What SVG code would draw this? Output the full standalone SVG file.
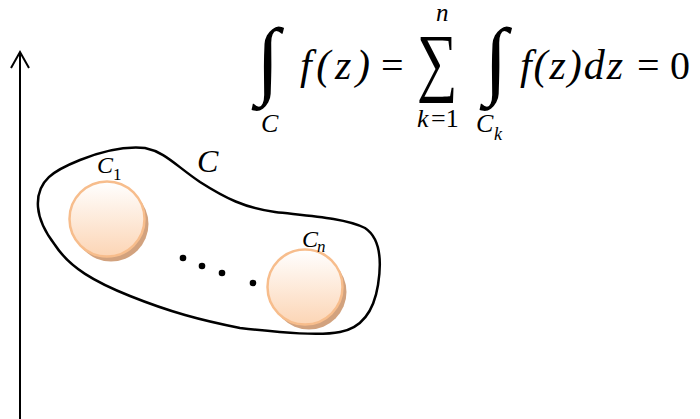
<svg xmlns="http://www.w3.org/2000/svg" width="700" height="419" viewBox="0 0 700 419">
<defs>
<linearGradient id="peach" x1="0" y1="0" x2="0" y2="1">
<stop offset="0" stop-color="#ffffff"/>
<stop offset="1" stop-color="#fcd5b5"/>
</linearGradient>
<style>
.m{font-family:"Liberation Serif","DejaVu Serif",serif;font-style:italic;fill:#000}
.r{font-family:"Liberation Serif","DejaVu Serif",serif;fill:#000}
.shadow{fill:#d2a27e}
.disk{fill:url(#peach);stroke:#f7bd8c;stroke-width:2.5}
.dot{fill:#000}
</style>
</defs>
<rect width="700" height="419" fill="#fff"/>
<g id="axis">
<line x1="20" y1="419" x2="20" y2="52" stroke="#000" stroke-width="2"/>
<polyline points="11,68 20,52 29,68" fill="none" stroke="#000" stroke-width="2"/>
</g>
<g id="formula">
<text class="r" x="256" y="88" font-size="86">∫</text>
<text class="m" x="261" y="132" font-size="26">C</text>
<text class="m" x="300" y="79" font-size="42" textLength="70" lengthAdjust="spacing">f(z)</text>
<text class="r" x="381" y="79" font-size="40">=</text>
<text class="m" x="436" y="21" font-size="25">n</text>
<text class="r" transform="translate(417,87) scale(0.75,1)" font-size="76">∑</text>
<text class="m" x="417" y="127" font-size="26">k</text>
<text class="r" x="431" y="127" font-size="26">=1</text>
<text class="r" x="484" y="88" font-size="86">∫</text>
<text class="m" x="476" y="132" font-size="26">C</text>
<text class="m" x="494" y="140" font-size="18">k</text>
<text class="m" x="520" y="79" font-size="42" textLength="103" lengthAdjust="spacing">f(z)dz</text>
<text class="r" x="637" y="79" font-size="40">=</text>
<text class="r" x="670" y="79" font-size="40">0</text>
</g>
<g id="contour-C">
<path d="M38,207 C36,180 55,170 80,160 C105,150 125,146 145,148 C165,152 175,165 200,182 C225,198 245,208 275,212 C310,216 345,218 365,228 C380,238 382,260 378,285 C374,310 362,328 340,332 C320,336 285,333 240,328 C200,320 170,312 130,296 C95,282 70,268 55,245 C45,232 39,220 38,207 Z" fill="none" stroke="#000" stroke-width="2.5"/>
<text class="m" x="197" y="172" font-size="32">C</text>
</g>
<g id="circle-C1">
<circle class="shadow" cx="111" cy="224" r="37.5"/>
<circle class="disk" cx="107" cy="219" r="37.5"/>
<text class="m" x="97" y="173" font-size="24">C</text>
<text class="r" x="113" y="180" font-size="17">1</text>
</g>
<g id="circle-Cn">
<circle class="shadow" cx="309" cy="292" r="37.5"/>
<circle class="disk" cx="305" cy="287" r="37.5"/>
<text class="m" x="302" y="247" font-size="24">C</text>
<text class="m" x="317" y="252" font-size="17">n</text>
</g>
<g id="dots">
<circle class="dot" cx="183" cy="258" r="3.3"/>
<circle class="dot" cx="202" cy="266" r="3.3"/>
<circle class="dot" cx="222" cy="273" r="3.3"/>
<circle class="dot" cx="253" cy="283" r="3.3"/>
</g>
</svg>
